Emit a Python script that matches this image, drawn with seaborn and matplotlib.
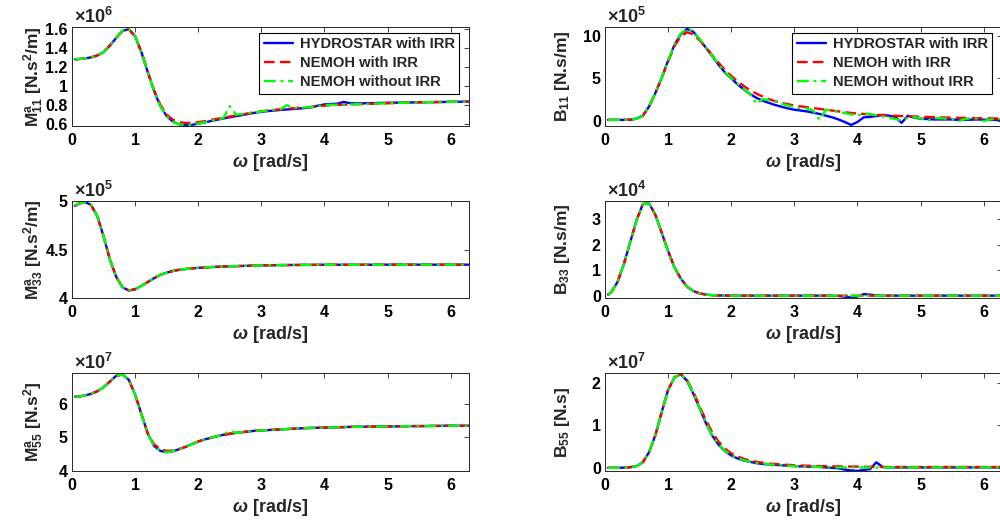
import numpy as np
import pandas as pd
import matplotlib
matplotlib.use("Agg")
import matplotlib.pyplot as plt
from matplotlib.ticker import FuncFormatter
import seaborn as sns

# Frequency grid [rad/s]
OMEGA = [0.05, 0.1, 0.2, 0.3, 0.4, 0.5, 0.6, 0.7, 0.8, 0.9,
         1.0, 1.1, 1.2, 1.3, 1.4, 1.5, 1.6, 1.7, 1.8, 1.9,
         2.0, 2.1, 2.2, 2.3, 2.4, 2.5, 2.6, 2.7, 2.8, 2.9,
         3.0, 3.1, 3.2, 3.3, 3.4, 3.5, 3.6, 3.7, 3.8, 3.9,
         4.0, 4.1, 4.2, 4.3, 4.4, 4.5, 4.6, 4.7, 4.8, 4.9,
         5.0, 5.1, 5.2, 5.3, 5.4, 5.5, 5.6, 5.7, 5.8, 5.9,
         6.0, 6.1, 6.2, 6.28]

SOURCES = ["HYDROSTAR with IRR", "NEMOH with IRR", "NEMOH without IRR"]

# Surge added mass M11 [x1e6 N.s^2/m]
M11_HS = [1.285, 1.287, 1.293, 1.305, 1.325, 1.360, 1.430, 1.510, 1.585, 1.603,
          1.530, 1.360, 1.150, 0.950, 0.790, 0.685, 0.625, 0.597, 0.587, 0.592,
          0.604, 0.617, 0.632, 0.646, 0.660, 0.672, 0.684, 0.696, 0.708, 0.720,
          0.730, 0.737, 0.743, 0.749, 0.754, 0.759, 0.764, 0.770, 0.778, 0.795,
          0.808, 0.812, 0.815, 0.834, 0.822, 0.818, 0.819, 0.821, 0.822, 0.824,
          0.825, 0.826, 0.827, 0.828, 0.829, 0.830, 0.831, 0.832, 0.833, 0.834,
          0.835, 0.836, 0.837, 0.838]
M11_NI = [1.285, 1.287, 1.293, 1.305, 1.325, 1.360, 1.430, 1.510, 1.585, 1.600,
          1.525, 1.360, 1.155, 0.960, 0.805, 0.700, 0.645, 0.620, 0.612, 0.613,
          0.620, 0.630, 0.643, 0.656, 0.668, 0.680, 0.692, 0.703, 0.714, 0.725,
          0.735, 0.743, 0.750, 0.756, 0.762, 0.767, 0.772, 0.777, 0.782, 0.789,
          0.795, 0.800, 0.803, 0.806, 0.808, 0.810, 0.812, 0.814, 0.816, 0.818,
          0.820, 0.822, 0.824, 0.826, 0.828, 0.830, 0.831, 0.832, 0.833, 0.834,
          0.835, 0.836, 0.837, 0.838]
M11_NW = [1.285, 1.287, 1.293, 1.305, 1.325, 1.360, 1.430, 1.510, 1.588, 1.606,
          1.530, 1.360, 1.150, 0.950, 0.790, 0.685, 0.625, 0.598, 0.588, 0.593,
          0.605, 0.618, 0.633, 0.648, 0.665, 0.790, 0.700, 0.706, 0.714, 0.724,
          0.734, 0.742, 0.750, 0.755, 0.800, 0.770, 0.772, 0.776, 0.782, 0.790,
          0.800, 0.805, 0.805, 0.806, 0.808, 0.810, 0.812, 0.814, 0.816, 0.818,
          0.820, 0.822, 0.824, 0.826, 0.828, 0.830, 0.831, 0.832, 0.833, 0.834,
          0.835, 0.836, 0.837, 0.838]

# Surge radiation damping B11 [x1e5 N.s/m]
B11_HS = [0.10, 0.10, 0.10, 0.10, 0.12, 0.25, 0.60, 1.70, 3.30, 5.10,
          7.10, 8.95, 10.20, 10.85, 10.50, 9.60, 8.60, 7.65, 6.60, 5.70,
          5.00, 4.30, 3.70, 3.15, 2.70, 2.35, 2.10, 1.85, 1.65, 1.45,
          1.30, 1.20, 1.10, 0.95, 0.80, 0.60, 0.40, 0.15, -0.15, -0.50,
          -0.15, 0.40, 0.45, 0.55, 0.70, 0.60, 0.45, -0.25, 0.60, 0.35,
          0.25, 0.20, 0.15, 0.15, 0.15, 0.15, 0.10, 0.12, 0.12, 0.15,
          0.12, 0.10, 0.10, 0.10]
B11_NI = [0.10, 0.10, 0.10, 0.10, 0.12, 0.25, 0.60, 1.70, 3.30, 5.10,
          7.00, 8.80, 9.95, 10.45, 10.20, 9.50, 8.65, 7.75, 6.85, 6.00,
          5.30, 4.65, 4.10, 3.60, 3.20, 2.85, 2.55, 2.30, 2.10, 1.95,
          1.80, 1.70, 1.60, 1.50, 1.40, 1.30, 1.20, 1.10, 1.00, 0.92,
          0.85, 0.80, 0.75, 0.70, 0.65, 0.60, 0.58, 0.55, 0.52, 0.50,
          0.47, 0.45, 0.42, 0.40, 0.38, 0.36, 0.34, 0.33, 0.32, 0.30,
          0.29, 0.28, 0.27, 0.26]
B11_NW = [0.10, 0.10, 0.10, 0.10, 0.12, 0.25, 0.60, 1.70, 3.30, 5.10,
          7.10, 9.00, 10.30, 10.90, 10.55, 9.65, 8.65, 7.70, 6.65, 5.75,
          5.05, 4.35, 3.75, 3.15, 2.00, 2.55, 2.45, 2.25, 2.00, 1.80,
          1.60, 1.50, 1.45, 1.20, 0.10, 1.30, 1.20, 1.05, 0.90, 0.75,
          0.60, 0.85, 0.80, 0.65, 0.50, 0.35, 0.20, 0.05, 0.35, 0.40,
          0.30, -0.05, 0.30, 0.30, 0.25, 0.20, -0.05, 0.20, 0.30, 0.25,
          -0.05, 0.15, 0.20, 0.20]

# Heave added mass M33 [x1e5 N.s^2/m]
M33_HS = [4.955, 4.975, 4.995, 4.965, 4.850, 4.640, 4.400, 4.220, 4.110, 4.078,
          4.090, 4.125, 4.165, 4.205, 4.240, 4.262, 4.280, 4.292, 4.300, 4.307,
          4.312, 4.316, 4.320, 4.323, 4.326, 4.328, 4.330, 4.332, 4.334, 4.336,
          4.338, 4.339, 4.340, 4.341, 4.341, 4.342, 4.342, 4.343, 4.343, 4.343,
          4.344, 4.344, 4.344, 4.344, 4.344, 4.344, 4.344, 4.344, 4.344, 4.344,
          4.345, 4.345, 4.345, 4.345, 4.345, 4.345, 4.345, 4.345, 4.345, 4.345,
          4.345, 4.345, 4.345, 4.345]
M33_NI = [4.955, 4.975, 4.995, 4.965, 4.850, 4.640, 4.400, 4.220, 4.110, 4.078,
          4.090, 4.125, 4.165, 4.205, 4.240, 4.262, 4.280, 4.292, 4.300, 4.307,
          4.312, 4.316, 4.320, 4.323, 4.326, 4.328, 4.330, 4.332, 4.334, 4.336,
          4.338, 4.339, 4.340, 4.341, 4.341, 4.342, 4.342, 4.343, 4.343, 4.343,
          4.344, 4.344, 4.344, 4.344, 4.344, 4.344, 4.344, 4.344, 4.344, 4.344,
          4.345, 4.345, 4.345, 4.345, 4.345, 4.345, 4.345, 4.345, 4.345, 4.345,
          4.345, 4.345, 4.345, 4.345]
M33_NW = [4.955, 4.975, 4.995, 4.965, 4.850, 4.640, 4.400, 4.220, 4.110, 4.078,
          4.090, 4.125, 4.165, 4.205, 4.240, 4.262, 4.280, 4.292, 4.300, 4.307,
          4.312, 4.316, 4.320, 4.323, 4.326, 4.328, 4.330, 4.332, 4.334, 4.336,
          4.338, 4.339, 4.340, 4.341, 4.341, 4.342, 4.342, 4.343, 4.343, 4.343,
          4.344, 4.344, 4.344, 4.344, 4.344, 4.344, 4.344, 4.344, 4.344, 4.344,
          4.345, 4.345, 4.345, 4.345, 4.345, 4.345, 4.345, 4.345, 4.345, 4.345,
          4.345, 4.345, 4.345, 4.345]

# Heave radiation damping B33 [x1e4 N.s/m]
B33_HS = [0.05, 0.15, 0.55, 1.25, 2.10, 2.95, 3.58, 3.60, 3.15, 2.45,
          1.75, 1.12, 0.68, 0.36, 0.19, 0.10, 0.05, 0.03, 0.02, 0.015,
          0.01, 0.01, 0.01, 0.01, 0.01, 0.01, 0.01, 0.01, 0.01, 0.01,
          0.01, 0.01, 0.01, 0.01, 0.01, 0.01, 0.01, 0.00, -0.03, -0.06,
          -0.02, 0.07, 0.05, 0.02, 0.01, 0.01, 0.01, 0.01, 0.01, 0.01,
          0.01, 0.01, 0.01, 0.01, 0.01, 0.01, 0.01, 0.01, 0.01, 0.01,
          0.01, 0.01, 0.01, 0.01]
B33_NI = [0.05, 0.15, 0.55, 1.25, 2.10, 2.95, 3.58, 3.60, 3.15, 2.45,
          1.75, 1.12, 0.68, 0.36, 0.19, 0.10, 0.05, 0.03, 0.02, 0.015,
          0.01, 0.01, 0.01, 0.01, 0.01, 0.01, 0.01, 0.01, 0.01, 0.01,
          0.01, 0.01, 0.01, 0.01, 0.01, 0.01, 0.01, 0.01, 0.01, 0.01,
          0.01, 0.01, 0.01, 0.01, 0.01, 0.01, 0.01, 0.01, 0.01, 0.01,
          0.01, 0.01, 0.01, 0.01, 0.01, 0.01, 0.01, 0.01, 0.01, 0.01,
          0.01, 0.01, 0.01, 0.01]
B33_NW = [0.05, 0.15, 0.55, 1.25, 2.10, 2.95, 3.58, 3.60, 3.15, 2.45,
          1.75, 1.12, 0.68, 0.36, 0.19, 0.10, 0.05, 0.03, 0.02, 0.015,
          0.01, 0.01, 0.01, 0.01, 0.01, 0.01, 0.01, 0.01, 0.01, 0.01,
          0.01, 0.01, 0.01, 0.01, 0.01, 0.01, 0.01, 0.01, 0.01, 0.01,
          0.01, 0.01, 0.01, 0.01, 0.01, 0.01, 0.01, 0.01, 0.01, 0.01,
          0.01, 0.01, 0.01, 0.01, 0.01, 0.01, 0.01, 0.01, 0.01, 0.01,
          0.01, 0.01, 0.01, 0.01]

# Pitch added inertia M55 [x1e7 N.s^2]
M55_HS = [6.22, 6.22, 6.25, 6.30, 6.38, 6.50, 6.67, 6.84, 6.88, 6.72,
          6.28, 5.70, 5.12, 4.75, 4.60, 4.56, 4.59, 4.65, 4.72, 4.80,
          4.88, 4.94, 4.99, 5.04, 5.08, 5.11, 5.14, 5.16, 5.18, 5.20,
          5.21, 5.22, 5.23, 5.24, 5.25, 5.26, 5.27, 5.28, 5.285, 5.29,
          5.295, 5.30, 5.305, 5.31, 5.315, 5.32, 5.32, 5.325, 5.325, 5.33,
          5.33, 5.33, 5.335, 5.335, 5.34, 5.34, 5.34, 5.345, 5.345, 5.35,
          5.35, 5.35, 5.35, 5.35]
M55_NI = [6.22, 6.22, 6.25, 6.30, 6.38, 6.50, 6.67, 6.84, 6.88, 6.72,
          6.28, 5.70, 5.12, 4.80, 4.65, 4.60, 4.61, 4.66, 4.72, 4.80,
          4.88, 4.94, 4.99, 5.04, 5.08, 5.11, 5.14, 5.16, 5.18, 5.20,
          5.21, 5.22, 5.23, 5.24, 5.25, 5.26, 5.27, 5.28, 5.285, 5.29,
          5.295, 5.30, 5.305, 5.31, 5.315, 5.32, 5.32, 5.325, 5.325, 5.33,
          5.33, 5.33, 5.335, 5.335, 5.34, 5.34, 5.34, 5.345, 5.345, 5.35,
          5.35, 5.35, 5.35, 5.35]
M55_NW = [6.22, 6.22, 6.25, 6.30, 6.38, 6.50, 6.67, 6.84, 6.88, 6.72,
          6.28, 5.70, 5.12, 4.75, 4.60, 4.56, 4.59, 4.65, 4.72, 4.80,
          4.88, 4.94, 4.99, 5.04, 5.08, 5.20, 5.14, 5.16, 5.18, 5.20,
          5.21, 5.22, 5.23, 5.24, 5.25, 5.26, 5.27, 5.28, 5.285, 5.29,
          5.295, 5.30, 5.305, 5.31, 5.315, 5.32, 5.32, 5.325, 5.325, 5.33,
          5.33, 5.33, 5.335, 5.335, 5.34, 5.34, 5.34, 5.345, 5.345, 5.35,
          5.35, 5.35, 5.35, 5.35]

# Pitch radiation damping B55 [x1e7 N.s]
B55_HS = [0.01, 0.01, 0.01, 0.015, 0.025, 0.05, 0.14, 0.38, 0.78, 1.32,
          1.83, 2.12, 2.20, 2.04, 1.74, 1.40, 1.05, 0.76, 0.55, 0.40,
          0.30, 0.23, 0.18, 0.15, 0.12, 0.10, 0.09, 0.08, 0.07, 0.06,
          0.05, 0.045, 0.04, 0.035, 0.03, 0.02, 0.01, 0.00, -0.03, -0.05,
          -0.06, -0.04, -0.02, 0.14, 0.03, 0.02, 0.02, 0.02, 0.02, 0.02,
          0.02, 0.02, 0.02, 0.02, 0.02, 0.02, 0.02, 0.02, 0.02, 0.02,
          0.02, 0.02, 0.02, 0.02]
B55_NI = [0.01, 0.01, 0.01, 0.015, 0.025, 0.05, 0.14, 0.38, 0.78, 1.32,
          1.83, 2.12, 2.20, 2.06, 1.78, 1.45, 1.12, 0.84, 0.62, 0.46,
          0.35, 0.28, 0.22, 0.18, 0.15, 0.13, 0.11, 0.10, 0.09, 0.08,
          0.07, 0.065, 0.06, 0.055, 0.05, 0.05, 0.045, 0.045, 0.04, 0.04,
          0.04, 0.035, 0.035, 0.035, 0.03, 0.03, 0.03, 0.03, 0.03, 0.03,
          0.03, 0.03, 0.03, 0.03, 0.03, 0.03, 0.03, 0.03, 0.03, 0.03,
          0.03, 0.03, 0.03, 0.03]
B55_NW = [0.01, 0.01, 0.01, 0.015, 0.025, 0.05, 0.14, 0.38, 0.78, 1.32,
          1.83, 2.12, 2.21, 2.05, 1.75, 1.41, 1.06, 0.77, 0.56, 0.41,
          0.31, 0.24, 0.19, 0.15, 0.12, 0.12, 0.09, 0.08, 0.07, 0.06,
          0.05, 0.045, 0.04, 0.035, 0.03, 0.025, 0.02, 0.02, 0.02, 0.02,
          0.02, 0.02, 0.02, 0.02, 0.02, 0.02, 0.02, 0.02, 0.02, 0.02,
          0.02, 0.02, 0.02, 0.02, 0.02, 0.02, 0.02, 0.02, 0.02, 0.02,
          0.02, 0.02, 0.02, 0.02]

sns.set_theme(style="white")
plt.rcParams["font.family"] = ["Liberation Sans", "DejaVu Sans"]
plt.rcParams["font.weight"] = "bold"
plt.rcParams["mathtext.fontset"] = "custom"
plt.rcParams["mathtext.rm"] = "Liberation Sans:bold"
plt.rcParams["mathtext.bf"] = "Liberation Sans:bold"
plt.rcParams["mathtext.it"] = "Liberation Sans:italic"
plt.rcParams["mathtext.sf"] = "Liberation Sans:bold"
plt.rcParams["mathtext.default"] = "bf"

PALETTE = {SOURCES[0]: "#0000FF", SOURCES[1]: "#FF0000", SOURCES[2]: "#00FF00"}
DASHES = {SOURCES[0]: "", SOURCES[1]: (4.5, 2.2), SOURCES[2]: (5, 2, 1.2, 2)}
AX_COLOR = "#262626"

panels = [
    # (values per source, scale, exponent, ylim, yticks, ylabel, axes rect, legend)
    ((M11_HS, M11_NI, M11_NW), 1e6, 6, (0.58, 1.625), [0.6, 0.8, 1, 1.2, 1.4, 1.6],
     r"M$^{\mathbf{a}}_{\mathbf{11}}$ [N.s$^{\mathbf{2}}$/m]", [0.072, 0.7605, 0.3965, 0.188], True),
    ((B11_HS, B11_NI, B11_NW), 1e5, 5, (-0.62, 11.06), [0, 5, 10],
     r"B$_{\mathbf{11}}$ [N.s/m]", [0.605, 0.7605, 0.3965, 0.188], True),
    ((M33_HS, M33_NI, M33_NW), 1e5, 5, (4.0, 5.0), [4, 4.5, 5],
     r"M$^{\mathbf{a}}_{\mathbf{33}}$ [N.s$^{\mathbf{2}}$/m]", [0.072, 0.4335, 0.3965, 0.1835], False),
    ((B33_HS, B33_NI, B33_NW), 1e4, 4, (-0.08, 3.68), [0, 1, 2, 3],
     r"B$_{\mathbf{33}}$ [N.s/m]", [0.605, 0.4335, 0.3965, 0.1835], False),
    ((M55_HS, M55_NI, M55_NW), 1e7, 7, (4.0, 6.92), [4, 5, 6],
     r"M$^{\mathbf{a}}_{\mathbf{55}}$ [N.s$^{\mathbf{2}}$]", [0.072, 0.1046, 0.3965, 0.186], False),
    ((B55_HS, B55_NI, B55_NW), 1e7, 7, (-0.063, 2.22), [0, 1, 2],
     r"B$_{\mathbf{55}}$ [N.s]", [0.605, 0.1046, 0.3965, 0.186], False),
]

fig = plt.figure(figsize=(10, 5.26), dpi=100)

for series, scale, expo, ylim, yticks, ylabel, rect, with_legend in panels:
    ax = fig.add_axes(rect)
    frames = []
    for name, vals in zip(SOURCES, series):
        frames.append(pd.DataFrame({"omega": OMEGA,
                                    "value": np.asarray(vals) * scale,
                                    "source": name}))
    df = pd.concat(frames, ignore_index=True)
    sns.lineplot(data=df, x="omega", y="value", hue="source", style="source",
                 hue_order=SOURCES, style_order=SOURCES, palette=PALETTE,
                 dashes=DASHES, linewidth=1.7, estimator=None, sort=False,
                 legend=False, ax=ax)

    ax.set_xlim(0, 2 * np.pi)
    ax.set_ylim(ylim[0] * scale, ylim[1] * scale)
    ax.set_xticks(range(7))
    ax.set_yticks([t * scale for t in yticks])
    ax.yaxis.set_major_formatter(FuncFormatter(lambda v, _p, s=scale: f"{v / s:g}"))

    ax.tick_params(direction="in", top=True, right=True, length=3.5, width=0.6,
                   color=AX_COLOR, labelsize=11.5, labelcolor="black")
    ax.tick_params(axis="x", pad=5)
    ax.tick_params(axis="y", pad=3)
    for lab in ax.get_xticklabels() + ax.get_yticklabels():
        lab.set_fontweight("bold")
    for sp in ax.spines.values():
        sp.set_color(AX_COLOR)
        sp.set_linewidth(0.7)
        sp.set_visible(True)

    ax.set_xlabel(r"$\mathit{\omega}$ [rad/s]", fontsize=13, fontweight="bold", labelpad=3)
    ax.set_ylabel(ylabel, fontsize=12.5, fontweight="bold")
    ax.yaxis.set_label_coords(-0.066 if rect[0] < 0.5 else -0.083, 0.5)

    ax.text(0.006, 1.005, r"$\mathrm{\times}$10$^{\mathbf{%d}}$" % expo,
            transform=ax.transAxes, ha="left", va="bottom", fontsize=13,
            fontweight="bold")

    if with_legend:
        leg = ax.legend(handles=ax.get_lines()[:3], labels=SOURCES,
                        loc="upper right", bbox_to_anchor=(0.977, 0.945),
                        frameon=True, fancybox=False, framealpha=1,
                        edgecolor="black", borderpad=0.3, labelspacing=0.35,
                        handlelength=2.0, handletextpad=0.45, borderaxespad=0,
                        prop={"family": "Liberation Sans", "weight": "bold", "size": 10.6})
        leg.get_frame().set_linewidth(0.8)

fig.savefig("out.png", dpi=100)
